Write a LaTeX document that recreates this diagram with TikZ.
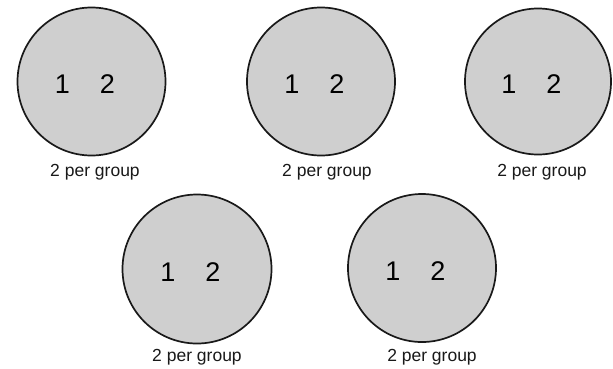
\documentclass[tikz,border=0pt]{standalone}
\usepackage{fontspec}
\setmainfont{Liberation Sans}
\begin{document}
\begin{tikzpicture}[x=1pt,y=-1pt,
  grp/.style={circle,draw=black!90,line width=1.7pt,fill=black!19,minimum size=#1,inner sep=0pt},
  num/.style={font=\fontsize{27}{30}\selectfont,text=black,anchor=base,inner sep=0pt},
  lbl/.style={font=\fontsize{17.5}{19}\selectfont,text=black!90,anchor=base,inner sep=0pt}]
\useasboundingbox (0,0) rectangle (613,368);
% circles
\node[grp=148pt] (c1) at (91.5,81.5) {};
\node[grp=148pt] (c2) at (321,81.5) {};
\node[grp=146pt] (c3) at (538,81.5) {};
\node[grp=149pt] (c4) at (197,269) {};
\node[grp=148pt] (c5) at (422,268) {};
% numbers
\foreach \c/\cx/\cy in {c1/91.5/81.5, c2/321/81.5, c3/538/81.5, c4/197/269, c5/422/268}{
  \node[num] (\c a) at (\cx-29,\cy+12) {1};
  \node[num] (\c b) at (\cx+16,\cy+12) {2};
}
% labels
\node[lbl] (l1) at (95,176) {2 per group};
\node[lbl] (l2) at (327,176) {2 per group};
\node[lbl] (l3) at (542,176) {2 per group};
\node[lbl] (l4) at (197,361) {2 per group};
\node[lbl] (l5) at (432,361) {2 per group};
\end{tikzpicture}
\end{document}
